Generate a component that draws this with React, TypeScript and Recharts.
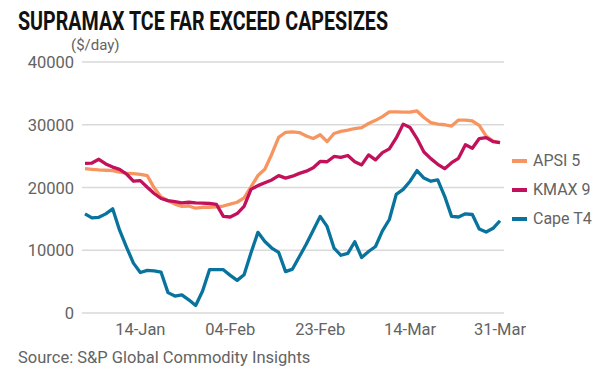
import React from "react";
import { LineChart, Line, XAxis, YAxis, CartesianGrid } from "recharts";

const dates = ["04-Jan","05-Jan","06-Jan","07-Jan","10-Jan","11-Jan","12-Jan","13-Jan","14-Jan","17-Jan","18-Jan","19-Jan","20-Jan","21-Jan","24-Jan","25-Jan","26-Jan","27-Jan","28-Jan","31-Jan","03-Feb","04-Feb","07-Feb","08-Feb","09-Feb","10-Feb","11-Feb","14-Feb","15-Feb","16-Feb","17-Feb","18-Feb","21-Feb","22-Feb","23-Feb","24-Feb","25-Feb","28-Feb","01-Mar","02-Mar","03-Mar","04-Mar","07-Mar","08-Mar","09-Mar","10-Mar","11-Mar","14-Mar","15-Mar","16-Mar","17-Mar","18-Mar","21-Mar","22-Mar","23-Mar","24-Mar","25-Mar","28-Mar","29-Mar","30-Mar","31-Mar"];

const apsi5 = [23000,22900,22800,22750,22700,22450,22300,22200,22100,21900,19950,18500,17900,17350,17000,17050,16700,16850,16850,16900,17050,17350,17650,18350,20100,21900,22900,25300,28000,28800,28850,28750,28200,27800,28400,27300,28600,28950,29150,29400,29550,30200,30700,31300,32050,32050,32000,32000,32200,31150,30350,30100,30000,29800,30750,30750,30600,29900,28200,27400,27150];

const kmax9 = [23850,23900,24500,23750,23250,22900,22150,21000,21100,20050,19050,18250,17900,17750,17550,17650,17550,17500,17450,17300,15400,15300,15850,17000,19700,20300,20750,21200,21900,21500,21800,22250,22600,23150,24150,24100,24950,24800,25100,24100,23600,25200,24400,25550,26150,27900,30100,29550,27800,25650,24600,23700,23000,23950,24650,26800,26250,27800,27950,27300,27150];

const capeT4 = [15800,15150,15250,15800,16600,13200,10500,7950,6450,6800,6700,6500,3250,2700,2900,2100,1200,3500,6900,6900,6900,6000,5200,6100,9600,12850,11400,10350,9650,6600,7000,9000,11000,13200,15400,13800,10350,9200,9500,11350,8850,9800,10600,13100,14900,18900,19700,21000,22700,21500,21000,21200,18600,15400,15300,15800,15700,13400,12900,13500,14700];

const xTickLabels = ["14-Jan", "04-Feb", "23-Feb", "14-Mar", "31-Mar"];
const yTicks = [0, 10000, 20000, 30000, 40000];

const seriesNames = ["APSI 5", "KMAX 9", "Cape T4"];
const seriesColors = ["#F79560", "#C2105B", "#08739C"];

const data = dates.map((d, i) => ({
  i,
  date: d,
  apsi: apsi5[i],
  kmax: kmax9[i],
  cape: capeT4[i],
}));

const xTicks = xTickLabels.map((l) => dates.indexOf(l));

const FONT = "Roboto, 'Noto Sans', sans-serif";
const GRAY = "#636363";

const YTick = (props: any) => {
  const { y, payload } = props;
  return (
    <text x={74} y={y + 6} textAnchor="end" fill={GRAY} fontSize={16.5} fontFamily={FONT}>
      {payload.value}
    </text>
  );
};

const XTick = (props: any) => {
  const { x, payload } = props;
  return (
    <text x={x} y={335} textAnchor="middle" fill={GRAY} fontSize={16.5} fontFamily={FONT}>
      {dates[payload.value]}
    </text>
  );
};

export default function App() {
  return (
    <div style={{ position: "absolute", left: 0, top: 0, width: 600, height: 374, background: "#fff", fontFamily: FONT }}>
      <div style={{ position: "absolute", left: 0, top: 0 }}>
        <LineChart width={600} height={374} data={data} margin={{ top: 62, right: 96, bottom: 31, left: 0 }}>
          <CartesianGrid horizontal={true} vertical={false} stroke="#d9d9d9" strokeWidth={1.5} />
          <XAxis
            dataKey="i"
            type="number"
            domain={[0, dates.length - 1]}
            ticks={xTicks}
            tick={<XTick />}
            axisLine={false}
            tickLine={false}
            height={30}
            padding={{ left: 3, right: 4 }}
            interval={0}
          />
          <YAxis
            type="number"
            domain={[0, 40000]}
            ticks={yTicks}
            tick={<YTick />}
            axisLine={false}
            tickLine={false}
            width={82}
            interval={0}
          />
          <Line dataKey="apsi" stroke={seriesColors[0]} strokeWidth={3.3} dot={false} isAnimationActive={false} strokeLinejoin="round" />
          <Line dataKey="kmax" stroke={seriesColors[1]} strokeWidth={3.3} dot={false} isAnimationActive={false} strokeLinejoin="round" />
          <Line dataKey="cape" stroke={seriesColors[2]} strokeWidth={3.3} dot={false} isAnimationActive={false} strokeLinejoin="round" />
        </LineChart>
      </div>
      <svg width={600} height={374} style={{ position: "absolute", left: 0, top: 0, pointerEvents: "none" }}>
        <text x={18} y={30} fontSize={25} fontWeight={700} fill="#111" fontFamily={FONT} textLength={370} lengthAdjust="spacingAndGlyphs">
          SUPRAMAX TCE FAR EXCEED CAPESIZES
        </text>
        <text x={71} y={50} fontSize={15} fill={GRAY} fontFamily={FONT}>
          ($/day)
        </text>
        <text x={18} y={363} fontSize={16.5} fill={GRAY} fontFamily={FONT}>
          Source: S&amp;P Global Commodity Insights
        </text>
      </svg>
      <div style={{ position: "absolute", left: 512, top: 146 }}>
        {seriesNames.map((n, k) => (
          <div key={n} style={{ display: "flex", alignItems: "center", height: 29 }}>
            <div style={{ width: 15, height: 4, background: seriesColors[k], marginRight: 6 }} />
            <span style={{ fontSize: 16, color: GRAY, fontFamily: FONT, whiteSpace: "nowrap" }}>{n}</span>
          </div>
        ))}
      </div>
    </div>
  );
}
